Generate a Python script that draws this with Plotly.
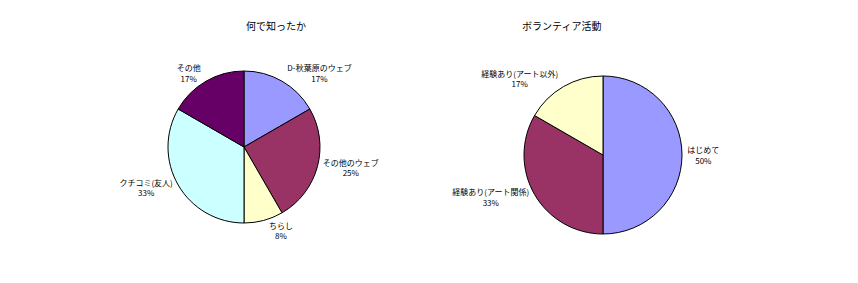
import plotly.graph_objects as go

# Data
left_title = "何で知ったか"
left_labels = ["D-秋葉原のウェブ", "その他のウェブ", "ちらし", "クチコミ(友人)", "その他"]
left_values = [2, 3, 1, 4, 2]
left_colors = ["#9999FF", "#993366", "#FFFFCC", "#CCFFFF", "#660066"]

right_title = "ボランティア活動"
right_labels = ["はじめて", "経験あり(アート関係)", "経験あり(アート以外)"]
right_values = [3, 2, 1]
right_colors = ["#9999FF", "#993366", "#FFFFCC"]

W, H = 858, 283
FONT = "Noto Sans CJK JP"

def dom(cx, cy, r):
    return dict(x=[(cx - r) / W, (cx + r) / W], y=[1 - (cy + r) / H, 1 - (cy - r) / H])

fig = go.Figure()
fig.add_trace(go.Pie(
    labels=left_labels, values=left_values, sort=False, direction="clockwise", rotation=0,
    marker=dict(colors=left_colors, line=dict(color="black", width=1)),
    textposition="outside", texttemplate="%{label}<br>%{percent:.0%}",
    textfont=dict(family=FONT, size=8, color="black"),
    domain=dom(244, 147, 76), showlegend=False, automargin=False,
))
fig.add_trace(go.Pie(
    labels=right_labels, values=right_values, sort=False, direction="clockwise", rotation=0,
    marker=dict(colors=right_colors, line=dict(color="black", width=1)),
    textposition="outside", texttemplate="%{label}<br>%{percent:.0%}",
    textfont=dict(family=FONT, size=8, color="black"),
    domain=dom(603, 155, 79), showlegend=False, automargin=False,
))
fig.update_layout(
    width=W, height=H, margin=dict(l=0, r=0, t=0, b=0),
    paper_bgcolor="white", plot_bgcolor="white",
    annotations=[
        dict(text=left_title, x=244 / W, y=1 - 16 / H, xref="paper", yref="paper",
             showarrow=False, font=dict(family=FONT, size=10, color="black")),
        dict(text=right_title, x=603 / W, y=1 - 16 / H, xref="paper", yref="paper",
             showarrow=False, font=dict(family=FONT, size=10, color="black")),
    ],
)
fig.write_html("out.html")
